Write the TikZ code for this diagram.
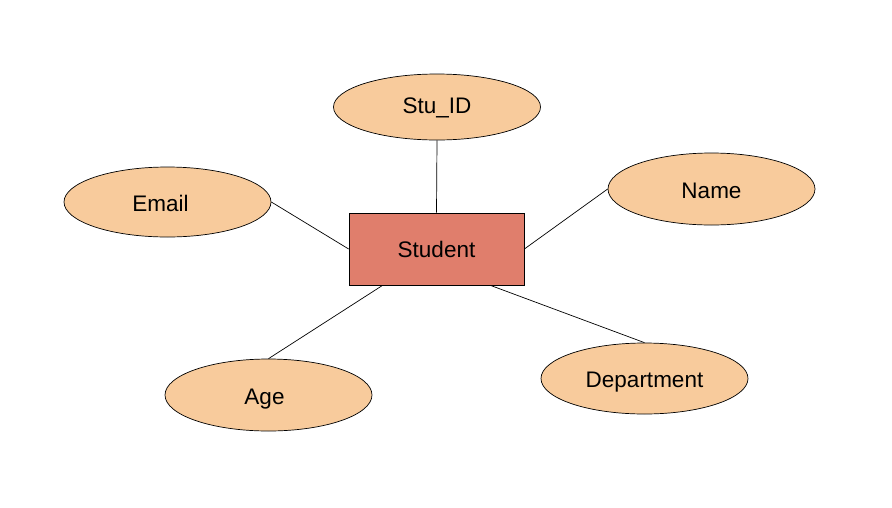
\documentclass[tikz,border=0pt]{standalone}
\usepackage{fontspec}
\setmainfont{Liberation Sans}
\usetikzlibrary{shapes.geometric}
\definecolor{attrfill}{HTML}{F8CB9C}
\definecolor{entfill}{HTML}{E07E6C}
\begin{document}
\begin{tikzpicture}[x=1pt, y=-1pt, line width=0.7pt,
  attr/.style={ellipse, draw, fill=attrfill, minimum width=207pt, minimum height=70pt, inner sep=0pt, text depth=0pt, text height=18pt, font=\fontsize{22.5}{26}\selectfont},
  entity/.style={rectangle, draw, fill=entfill, minimum width=175pt, minimum height=72pt, inner sep=0pt, font=\fontsize{22.5}{26}\selectfont}]
  \useasboundingbox (0,0) rectangle (892,507);
  \node[entity] (student) at (436.5,249) {Student};
  \node[attr, minimum height=66pt, text height=12pt] (stuid) at (437,107) {Stu\_ID};
  \node[attr] (email) at (167.5,202) {Email\hspace*{14pt}};
  \node[attr, minimum height=72pt] (name) at (711.5,189) {Name};
  \node[attr, minimum height=72pt] (age) at (268.5,395) {Age\hspace*{8pt}};
  \node[attr, minimum height=71pt] (dept) at (644.5,378.5) {Department};
  \draw (stuid.south) -- (student.north);
  \draw (email.east) -- (student.west);
  \draw (name.west) -- (student.east);
  \draw (age.north) -- (student.214);
  \draw (dept.north) -- (student.326);
\end{tikzpicture}
\end{document}
